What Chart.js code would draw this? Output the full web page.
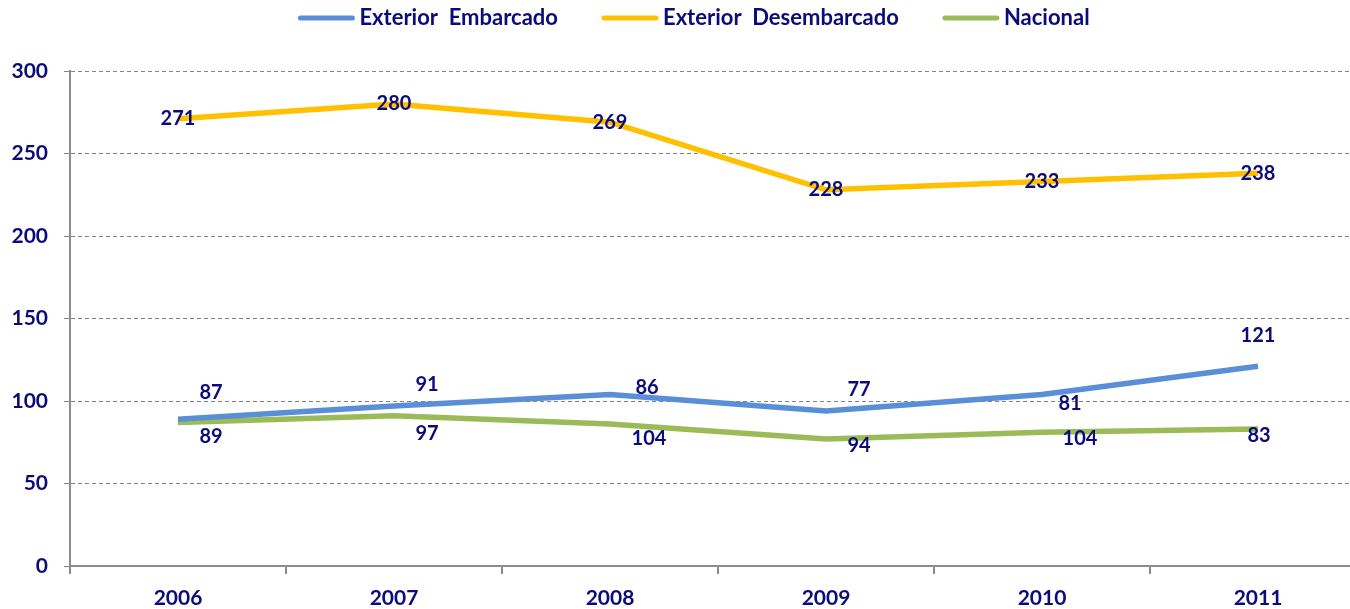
<!DOCTYPE html>
<html>
<head>
<meta charset="utf-8">
<script src="https://cdn.jsdelivr.net/npm/chart.js@4.4.0/dist/chart.umd.min.js"></script>
<style>
  html, body { margin: 0; padding: 0; background: #fff; overflow: hidden; }
  #wrap { width: 1372px; height: 609px; }
</style>
</head>
<body>
<div id="wrap"><canvas id="myChart"></canvas></div>
<script>
// values
var years = ['2006', '2007', '2008', '2009', '2010', '2011'];
var embarcado = [89, 97, 104, 94, 104, 121];
var desembarcado = [271, 280, 269, 228, 233, 238];
var nacional = [87, 91, 86, 77, 81, 83];
var yTicks = [0, 50, 100, 150, 200, 250, 300];

// where each value label sits relative to its point (px)
var labelShift = [
  [[33, 17], [33, 28], [39, 44], [33, 35], [38, 44], [0, -31]],
  [[0, 0], [0, 0], [0, 0], [0, 0], [0, 0], [0, 0]],
  [[33, -30], [33, -31], [37, -37], [33, -49], [28, -29], [1, 6]]
];

var navy = '#0b0b7a';
var fam = 'Lato, "DejaVu Sans Condensed", sans-serif';

var valueLabels = {
  id: 'valueLabels',
  afterDatasetsDraw: function (chart) {
    var ctx = chart.ctx;
    ctx.save();
    ctx.font = 'bold 20px ' + fam;
    ctx.fillStyle = navy;
    ctx.textAlign = 'center';
    ctx.textBaseline = 'middle';
    chart.data.datasets.forEach(function (ds, i) {
      var meta = chart.getDatasetMeta(i);
      meta.data.forEach(function (pt, j) {
        var s = labelShift[i][j];
        ctx.fillText(ds.data[j], pt.x + s[0], pt.y + s[1]);
      });
    });
    ctx.restore();
  }
};

// legend row at the top: line sample + label, centred
var topLegend = {
  id: 'topLegend',
  afterDraw: function (chart) {
    var ctx = chart.ctx;
    var sets = chart.data.datasets;
    var lineLen = 56, gapText = 5, gapItem = 44, y = 18;
    ctx.save();
    ctx.font = 'bold 22px ' + fam;
    var total = 0;
    sets.forEach(function (ds, i) {
      total += lineLen + gapText + ctx.measureText(ds.label).width;
      if (i < sets.length - 1) total += gapItem;
    });
    var x = 694 - total / 2;
    ctx.textBaseline = 'middle';
    ctx.lineCap = 'round';
    sets.forEach(function (ds) {
      ctx.strokeStyle = ds.borderColor;
      ctx.lineWidth = 5;
      ctx.beginPath();
      ctx.moveTo(x + 2, y);
      ctx.lineTo(x + lineLen - 2, y);
      ctx.stroke();
      x += lineLen + gapText;
      ctx.fillStyle = navy;
      ctx.fillText(ds.label, x, y);
      x += ctx.measureText(ds.label).width + gapItem;
    });
    ctx.restore();
  }
};

var ctx = document.getElementById('myChart');

var myChart = new Chart(ctx, {
  type: 'line',
  data: {
    labels: years,
    datasets: [{
      label: 'Exterior  Embarcado',
      data: embarcado,
      borderColor: '#5a8fd8',
      backgroundColor: '#5a8fd8',
      borderWidth: 5.5,
      pointRadius: 0,
      tension: 0
    }, {
      label: 'Exterior  Desembarcado',
      data: desembarcado,
      borderColor: '#ffc000',
      backgroundColor: '#ffc000',
      borderWidth: 5.5,
      pointRadius: 0,
      tension: 0
    }, {
      label: 'Nacional',
      data: nacional,
      borderColor: '#9bbb59',
      backgroundColor: '#9bbb59',
      borderWidth: 5.5,
      pointRadius: 0,
      tension: 0
    }]
  },
  plugins: [valueLabels, topLegend],
  options: {
    responsive: true,
    maintainAspectRatio: false,
    animation: false,
    layout: { padding: { top: 71, right: 6, left: 0, bottom: 0 } },
    plugins: {
      tooltip: { enabled: false },
      legend: { display: false }
    },
    scales: {
      x: {
        offset: true,
        grid: { offset: true, drawOnChartArea: false, drawTicks: true, tickLength: 8, color: '#8c8c8c', lineWidth: 2 },
        border: { color: '#8c8c8c', width: 2 },
        ticks: { color: navy, padding: 12, font: { family: fam, size: 21, weight: 'bold' } },
        afterFit: function (s) { s.height = 43; }
      },
      y: {
        min: 0,
        max: 300,
        afterBuildTicks: function (s) { s.ticks = yTicks.map(function (v) { return { value: v }; }); },
        grid: { color: '#858585', lineWidth: 1, tickLength: 6 },
        border: { color: '#8c8c8c', width: 2, dash: [4, 3] },
        ticks: { color: navy, padding: 16, font: { family: fam, size: 21, weight: 'bold' } },
        afterFit: function (s) { s.width = 70; }
      }
    }
  }
});
</script>
</body>
</html>
